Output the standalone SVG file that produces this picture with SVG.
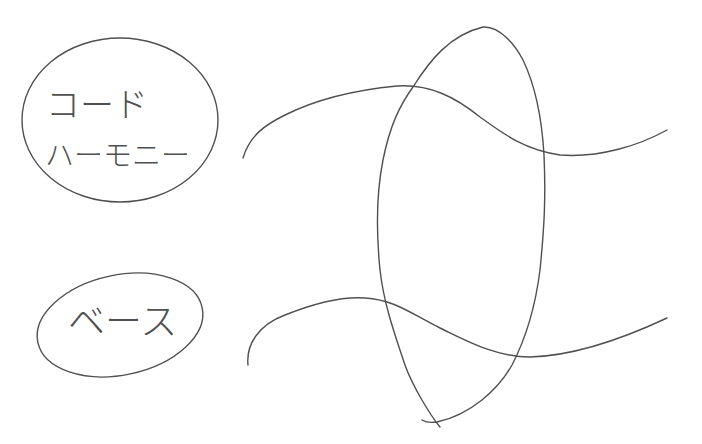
<svg xmlns="http://www.w3.org/2000/svg" width="702" height="444" viewBox="0 0 702 444">
<style>
.pen{fill:none;stroke:#505050;stroke-width:1.4;stroke-linecap:round;stroke-linejoin:round}
.lbl{font-family:"Noto Sans CJK JP","Noto Sans",sans-serif;font-weight:300;fill:#505050}
</style>
<rect width="702" height="444" fill="#ffffff"/>
<g id="chord-harmony">
<ellipse class="pen" cx="120" cy="120" rx="98" ry="82"/>
<text class="lbl" x="46" y="117" font-size="34">コード</text>
<text class="lbl" x="45" y="166" font-size="29">ハーモニー</text>
</g>
<g id="bass">
<ellipse class="pen" cx="120" cy="325" rx="84" ry="50" transform="rotate(-12 120 325)"/>
<text class="lbl" x="68" y="335" font-size="37">ベース</text>
</g>
<g id="loop">
<path class="pen" d="M440,427 C430,415 412,385 405,365 C395,335 384,305 380,270 C376,230 377,190 383,160 C390,125 400,105 413,87 C430,60 450,35 483,27 C500,26 515,45 523,60 C535,85 542,120 544,155 C546,200 544,230 540,270 C535,310 525,340 512,365 C498,390 470,415 437,422 C430,423 425,422 422,420"/>
</g>
<g id="connectors">
<path class="pen" d="M243,158 C250,135 265,125 285,115 C315,100 355,90 397,86 C430,84 455,97 480,117 C505,135 525,150 560,155 C600,158 640,145 667,130"/>
<path class="pen" d="M248,365 C246,345 258,325 285,315 C310,305 340,296 365,298 C395,300 410,313 440,328 C465,340 495,357 530,357 C570,356 620,340 667,318"/>
</g>
</svg>
